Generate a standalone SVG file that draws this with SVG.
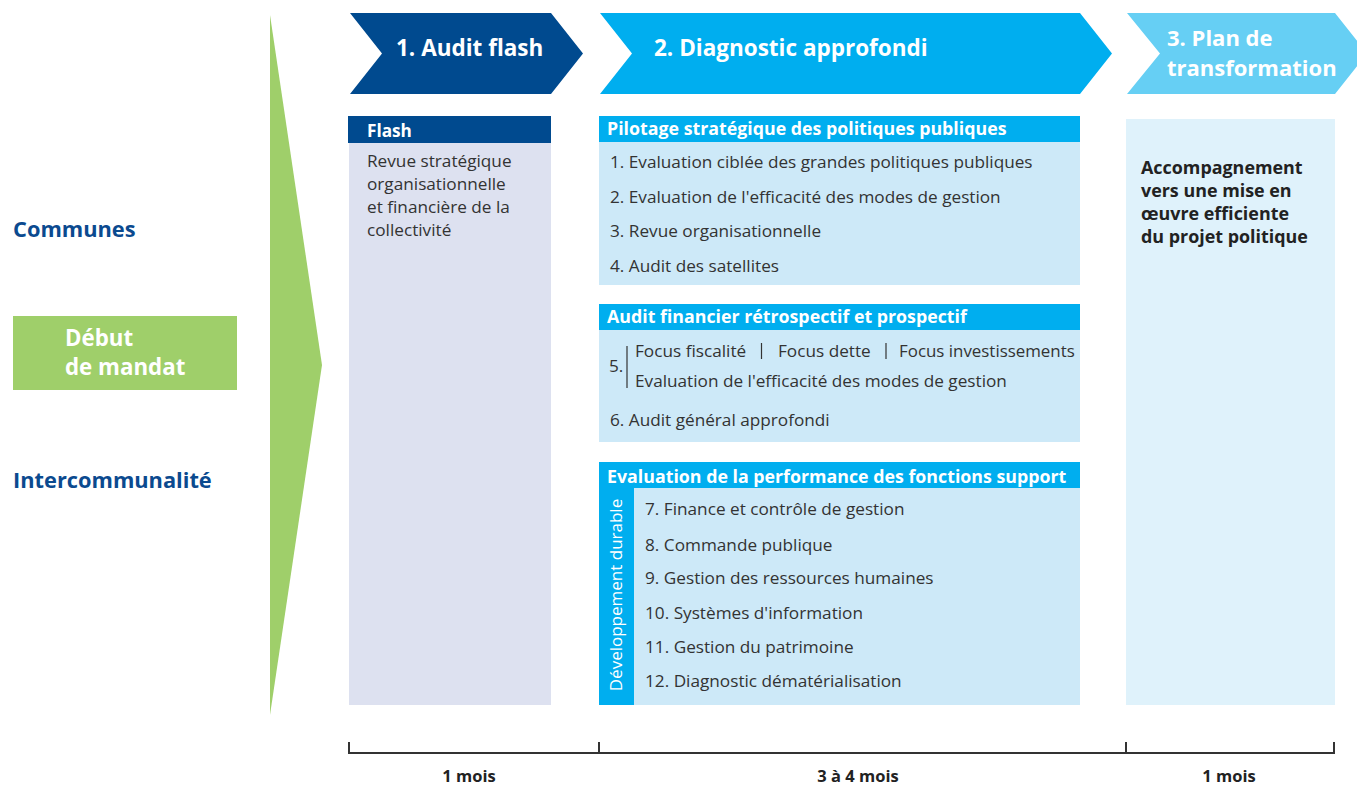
<svg xmlns="http://www.w3.org/2000/svg" width="1357" height="787" viewBox="0 0 1357 787">
<style>
text{font-family:"Open Sans","Liberation Sans",sans-serif}
.hd{fill:#fff;font-weight:bold;font-size:22.5px}
.bh{fill:#fff;font-weight:bold;font-size:17.8px}
.it{fill:#333;font-size:17.2px}
.side{fill:#0b4a8f;font-weight:bold;font-size:21.8px}
.tl{fill:#222;font-weight:bold;font-size:16.5px;text-anchor:middle}
.pl{fill:#222;font-weight:bold;font-size:17.9px}
.dark{fill:#004a8f}
.cyan{fill:#00aeef}
.lb{fill:#cde9f8}
</style>
<rect width="1357" height="787" fill="#fff"/>
<g id="left">
<polygon points="270,15 322,365 270,715" fill="#9fcf6a"/>
<text class="side" x="13" y="237">Communes</text>
<rect x="13" y="316" width="224" height="74" fill="#9fcf6a"/>
<text x="65" y="346" style="fill:#fff;font-weight:bold;font-size:22.3px">Début</text>
<text x="65" y="375" style="fill:#fff;font-weight:bold;font-size:22.3px">de mandat</text>
<text class="side" x="13" y="488">Intercommunalité</text>
</g>
<g id="phase1">
<polygon points="350,13 551,13 583,53.5 551,94 350,94 382,53.5" class="dark"/>
<text class="hd" x="396" y="56">1. Audit flash</text>
</g>
<g id="phase2">
<polygon points="600,13 1080,13 1112,53.5 1080,94 600,94 632,53.5" class="cyan"/>
<text class="hd" x="654" y="56">2. Diagnostic approfondi</text>
</g>
<g id="phase3">
<polygon points="1127,13 1335,13 1367,53.5 1335,94 1127,94 1160,53.5" fill="#66cff4"/>
<text class="hd" x="1167" y="46" style="font-size:22px">3. Plan de</text>
<text class="hd" x="1167" y="76" style="font-size:22px">transformation</text>
</g>
<g id="flash">
<rect x="349" y="143" width="202" height="562" fill="#dde1f0"/>
<rect x="348" y="116" width="203" height="27" class="dark"/>
<text class="bh" x="367" y="137" style="font-size:17.2px">Flash</text>
<text class="it" x="367" y="167">Revue stratégique</text>
<text class="it" x="367" y="190">organisationnelle</text>
<text class="it" x="367" y="213">et financière de la</text>
<text class="it" x="367" y="236">collectivité</text>
</g>
<g id="pilotage">
<rect x="599" y="142" width="481" height="143" class="lb"/>
<rect x="599" y="116" width="481" height="26" class="cyan"/>
<text class="bh" x="607" y="135">Pilotage stratégique des politiques publiques</text>
<text class="it" x="610" y="168">1. Evaluation ciblée des grandes politiques publiques</text>
<text class="it" x="610" y="203">2. Evaluation de l'efficacité des modes de gestion</text>
<text class="it" x="610" y="237">3. Revue organisationnelle</text>
<text class="it" x="610" y="272">4. Audit des satellites</text>
</g>
<g id="audit-financier">
<rect x="599" y="330" width="481" height="112" class="lb"/>
<rect x="599" y="304" width="481" height="26" class="cyan"/>
<text class="bh" x="607" y="323">Audit financier rétrospectif et prospectif</text>
<text class="it" x="609" y="372">5.</text>
<line x1="627" y1="346" x2="627" y2="388" stroke="#333" stroke-width="1.2"/>
<text class="it" x="635" y="357">Focus fiscalité</text>
<line x1="761.5" y1="343" x2="761.5" y2="359" stroke="#333" stroke-width="1.2"/>
<text class="it" x="778" y="357">Focus dette</text>
<line x1="886" y1="343" x2="886" y2="359" stroke="#333" stroke-width="1.2"/>
<text class="it" x="899" y="357" style="font-size:16.9px">Focus investissements</text>
<text class="it" x="635" y="387">Evaluation de l'efficacité des modes de gestion</text>
<text class="it" x="610" y="426">6. Audit général approfondi</text>
</g>
<g id="fonctions-support">
<rect x="599" y="488" width="481" height="217" class="lb"/>
<rect x="599" y="462" width="481" height="26" class="cyan"/>
<rect x="599" y="488" width="35" height="217" class="cyan"/>
<text class="bh" x="607" y="483">Evaluation de la performance des fonctions support</text>
<text x="0" y="0" transform="translate(622,595) rotate(-90)" style="fill:#fff;font-size:17px;text-anchor:middle">Développement durable</text>
<text class="it" x="645" y="515">7. Finance et contrôle de gestion</text>
<text class="it" x="645" y="551">8. Commande publique</text>
<text class="it" x="645" y="584">9. Gestion des ressources humaines</text>
<text class="it" x="645" y="619">10. Systèmes d'information</text>
<text class="it" x="645" y="653">11. Gestion du patrimoine</text>
<text class="it" x="645" y="687">12. Diagnostic dématérialisation</text>
</g>
<g id="plan">
<rect x="1126" y="119" width="209" height="586" fill="#dff2fb"/>
<text class="pl" x="1141" y="174">Accompagnement</text>
<text class="pl" x="1141" y="197">vers une mise en</text>
<text class="pl" x="1141" y="220">œuvre efficiente</text>
<text class="pl" x="1141" y="243">du projet politique</text>
</g>
<g id="timeline" stroke="#333" stroke-width="2" fill="none">
<line x1="348" y1="753" x2="1335" y2="753"/>
<line x1="349" y1="742" x2="349" y2="754"/>
<line x1="599" y1="742" x2="599" y2="754"/>
<line x1="1126" y1="742" x2="1126" y2="754"/>
<line x1="1334" y1="742" x2="1334" y2="754"/>
</g>
<g id="durations">
<text class="tl" x="469" y="782">1 mois</text>
<text class="tl" x="858" y="782">3 à 4 mois</text>
<text class="tl" x="1229" y="782">1 mois</text>
</g>
</svg>
